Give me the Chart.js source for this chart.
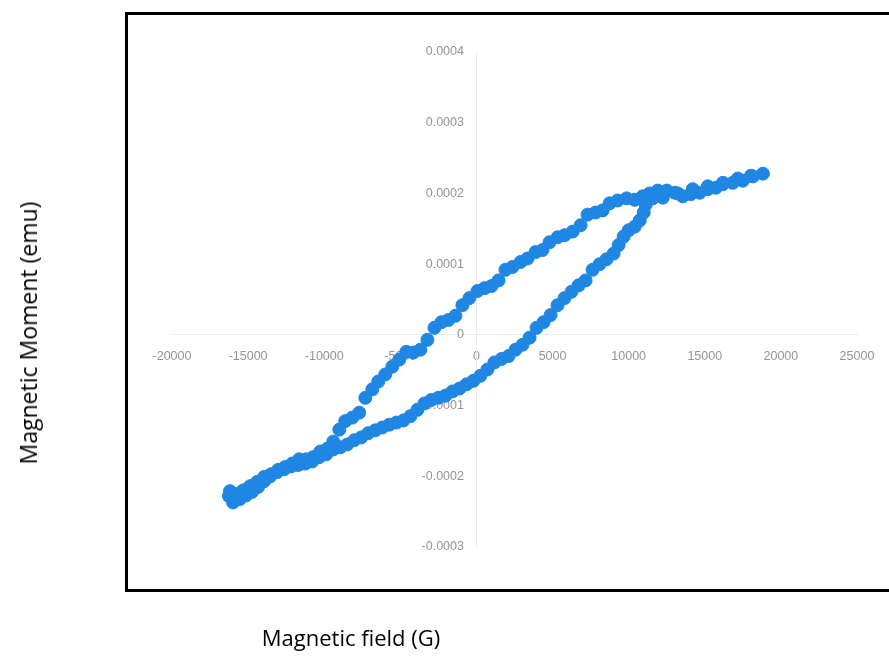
<!DOCTYPE html>
<html>
<head>
<meta charset="utf-8">
<script src="https://cdn.jsdelivr.net/npm/chart.js@4.4.1/dist/chart.umd.min.js"></script>
<style>
  html, body { margin: 0; padding: 0; width: 889px; height: 657px; overflow: hidden; background: #fff; }
  #frame { position: absolute; left: 125px; top: 12px; width: 800px; height: 574px; border: 3px solid #000; }
  #wrap { position: absolute; left: 0; top: 0; width: 889px; height: 657px; }
  .title { position: absolute; font-family: "Open Sans", "Liberation Sans", sans-serif; color: #000; white-space: nowrap; }
  #xTitle { left: 351px; top: 637px; font-size: 22px; transform: translate(-50%, -50%); }
  #yTitle { left: 28px; top: 333px; font-size: 23px; transform: translate(-50%, -50%) rotate(-90deg); }
</style>
</head>
<body>
<div id="frame"></div>
<div id="wrap"><canvas id="loopChart" width="889" height="657"></canvas></div>
<div class="title" id="xTitle">Magnetic field (G)</div>
<div class="title" id="yTitle">Magnetic Moment (emu)</div>
<script>
// Axis ranges / ticks
const xTicks = [-20000, -15000, -10000, -5000, 0, 5000, 10000, 15000, 20000, 25000];
const yTicks = [-0.0003, -0.0002, -0.0001, 0, 0.0001, 0.0002, 0.0003, 0.0004];

// Ascending branch (field increasing)
const fieldUp = [
  -15920, -15530, -15130, -14740, -14340, -13950, -13550, -13090, -12630, -12170,
  -11710, -11250, -10790, -10330, -9870, -9410, -8950, -8490, -8030, -7570,
  -7110, -6650, -6190, -5720, -5260, -4800, -4340, -3880, -3420, -2960,
  -2500, -2040, -1580, -1120, -660, -200, 260, 720, 1180, 1650,
  2110, 2570, 3030, 3490, 3950, 4410, 4870, 5330, 5790, 6250,
  6710, 7170, 7630, 8090, 8550, 9010, 9340, 9670, 10000, 10400,
  10730, 10990, 11120, 11580, 12240, 13230, 14210, 15200, 16190, 17170, 18030
];
const momentUp = [
  -2.34e-4, -2.32e-4, -2.27e-4, -2.22e-4, -2.15e-4, -2.07e-4, -2.00e-4, -1.94e-4, -1.90e-4, -1.86e-4,
  -1.84e-4, -1.82e-4, -1.79e-4, -1.73e-4, -1.69e-4, -1.62e-4, -1.59e-4, -1.55e-4, -1.49e-4, -1.45e-4,
  -1.39e-4, -1.35e-4, -1.31e-4, -1.27e-4, -1.24e-4, -1.21e-4, -1.15e-4, -1.06e-4, -9.7e-5, -9.2e-5,
  -8.9e-5, -8.6e-5, -8.0e-5, -7.6e-5, -7.0e-5, -6.5e-5, -5.8e-5, -4.9e-5, -3.9e-5, -3.4e-5,
  -3.0e-5, -2.1e-5, -1.4e-5, -4e-6, 1.0e-5, 1.8e-5, 2.8e-5, 4.2e-5, 5.2e-5, 6.1e-5,
  7.0e-5, 7.7e-5, 9.2e-5, 1.00e-4, 1.07e-4, 1.15e-4, 1.27e-4, 1.39e-4, 1.48e-4, 1.53e-4,
  1.62e-4, 1.73e-4, 1.84e-4, 1.93e-4, 1.94e-4, 2.00e-4, 2.06e-4, 2.10e-4, 2.15e-4, 2.21e-4, 2.25e-4
];

// Descending branch (field decreasing)
const fieldDown = [
  18820, 18160, 17500, 16840, 16190, 15730, 15200, 14670, 14080, 13550,
  13030, 12500, 11910, 11380, 10920, 10400, 9870, 9280, 8750, 8290,
  7830, 7300, 6840, 6320, 5790, 5330, 4800, 4340, 3880, 3360,
  2900, 2370, 1910, 1450, 990, 530, 70, -460, -920, -1380,
  -1840, -2300, -2760, -3220, -3680, -4150, -4610, -5070, -5530, -5990,
  -6450, -6840, -7300, -7700, -8160, -8620, -9010, -9410, -9800, -10260,
  -10730, -11190, -11650, -12110, -12570, -13030, -13490, -13950, -14410, -14870,
  -15330, -15790, -16190, -16260, -15990
];
const momentDown = [
  2.28e-4, 2.24e-4, 2.18e-4, 2.15e-4, 2.13e-4, 2.08e-4, 2.06e-4, 2.01e-4, 1.99e-4, 1.96e-4,
  2.01e-4, 2.04e-4, 2.04e-4, 2.00e-4, 1.96e-4, 1.91e-4, 1.93e-4, 1.90e-4, 1.86e-4, 1.76e-4,
  1.73e-4, 1.70e-4, 1.55e-4, 1.46e-4, 1.41e-4, 1.38e-4, 1.31e-4, 1.20e-4, 1.17e-4, 1.08e-4,
  1.03e-4, 9.6e-5, 9.2e-5, 7.7e-5, 6.9e-5, 6.6e-5, 6.2e-5, 5.2e-5, 4.2e-5, 2.7e-5,
  2.1e-5, 1.8e-5, 1.0e-5, -7e-6, -2.1e-5, -2.5e-5, -2.4e-5, -3.5e-5, -4.5e-5, -5.6e-5,
  -6.6e-5, -7.7e-5, -8.9e-5, -1.10e-4, -1.17e-4, -1.22e-4, -1.34e-4, -1.51e-4, -1.61e-4, -1.65e-4,
  -1.73e-4, -1.76e-4, -1.76e-4, -1.82e-4, -1.87e-4, -1.91e-4, -1.97e-4, -2.01e-4, -2.08e-4, -2.14e-4,
  -2.20e-4, -2.25e-4, -2.21e-4, -2.28e-4, -2.37e-4
];

const toPoints = (xs, ys) => xs.map((x, i) => ({ x: x, y: ys[i] }));
const loopPoints = toPoints(fieldDown, momentDown).concat(toPoints(fieldUp, momentUp));

const axisColor = '#ebebeb';
const tickFont = { family: '"Liberation Sans", sans-serif', size: 12.5 };
const tickColor = '#939393';
// centred y axis ignores ticks.padding, so keep a gap with trailing en spaces
const yGap = '\u2002\u2002';

const ctx = document.getElementById('loopChart').getContext('2d');
new Chart(ctx, {
  type: 'scatter',
  data: {
    datasets: [{
      label: 'Moment',
      data: loopPoints,
      backgroundColor: '#1f86e4',
      borderColor: '#1f86e4',
      borderWidth: 1,
      pointRadius: 6.5,
      showLine: false
    }]
  },
  options: {
    responsive: false,
    animation: false,
    events: [],
    layout: { padding: { left: 172, right: 32, top: 52, bottom: 110 } },
    plugins: { legend: { display: false }, tooltip: { enabled: false } },
    scales: {
      x: {
        type: 'linear',
        position: { y: 0 },
        min: xTicks[0],
        max: xTicks[xTicks.length - 1],
        afterBuildTicks: (axis) => { axis.ticks = xTicks.map(v => ({ value: v })); },
        grid: { display: false, drawTicks: false },
        border: { display: true, color: axisColor, width: 1 },
        ticks: {
          color: tickColor, font: tickFont, padding: 14, maxRotation: 0, autoSkip: false,
          callback: (v) => String(v)
        }
      },
      y: {
        type: 'linear',
        position: { x: 0 },
        min: yTicks[0],
        max: yTicks[yTicks.length - 1],
        afterBuildTicks: (axis) => { axis.ticks = yTicks.map(v => ({ value: v })); },
        grid: { display: false, drawTicks: false },
        border: { display: true, color: axisColor, width: 1 },
        ticks: {
          color: tickColor, font: tickFont, autoSkip: false,
          callback: (v) => (Math.abs(v) < 1e-12 ? '0' : v.toFixed(4)) + yGap
        }
      }
    }
  }
});
</script>
</body>
</html>
